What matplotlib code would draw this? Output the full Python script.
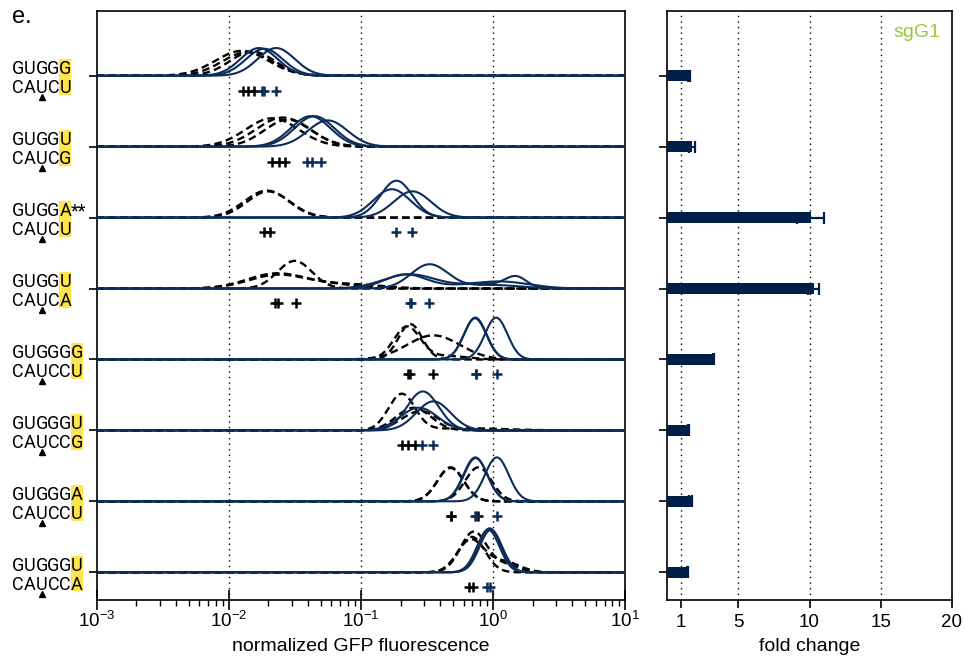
import matplotlib

matplotlib.use("Agg")
import matplotlib.pyplot as plt
import matplotlib.transforms as mtransforms
from matplotlib.patches import Rectangle
import numpy as np

plt.rcParams["font.family"] = ["Liberation Sans", "DejaVu Sans"]

# ---- data (rows from top to bottom) ----
seq_top = ["GUGGG", "GUGGU", "GUGGA", "GUGGU", "GUGGGG", "GUGGGU", "GUGGGA", "GUGGGU"]
seq_bot = ["CAUCU", "CAUCG", "CAUCU", "CAUCA", "CAUCCU", "CAUCCG", "CAUCCU", "CAUCCA"]
seq_mark = ["", "", "**", "", "", "", "", ""]

fold_change = [1.55, 1.74, 10.1, 10.3, 3.27, 1.50, 1.67, 1.46]
fold_err = [0.05, 0.22, 0.95, 0.40, 0.05, 0.05, 0.10, 0.03]

# density peaks per curve: (log10 centre, log10 spread, height in row units)
ctrl_peaks = [
    [[(-1.90, 0.20, 0.35)], [(-1.86, 0.19, 0.33)], [(-1.82, 0.17, 0.34)]],
    [[(-1.67, 0.20, 0.40)], [(-1.59, 0.20, 0.41)], [(-1.55, 0.18, 0.38)]],
    [[(-1.71, 0.17, 0.38)], [(-1.70, 0.16, 0.37)]],
    [[(-1.50, 0.13, 0.39)],
     [(-1.64, 0.22, 0.21), (-1.20, 0.20, 0.05)],
     [(-1.63, 0.22, 0.19), (-1.10, 0.25, 0.06)]],
    [[(-0.625, 0.09, 0.50)], [(-0.65, 0.10, 0.46), (-0.35, 0.15, 0.05)], [(-0.45, 0.20, 0.34)]],
    [[(-0.69, 0.10, 0.51), (-0.20, 0.30, 0.03)], [(-0.60, 0.13, 0.32)], [(-0.55, 0.14, 0.27)]],
    [[(-0.32, 0.10, 0.48)], [(-0.32, 0.10, 0.47)], [(-0.11, 0.10, 0.48)]],
    [[(-0.146, 0.10, 0.57), (0.10, 0.10, 0.10)],
     [(-0.17, 0.10, 0.45), (0.08, 0.12, 0.15)],
     [(-0.16, 0.10, 0.50)]],
]
sg_peaks = [
    [[(-1.77, 0.14, 0.39)], [(-1.73, 0.14, 0.38)], [(-1.64, 0.14, 0.39)]],
    [[(-1.38, 0.15, 0.43)], [(-1.35, 0.15, 0.43)], [(-1.25, 0.15, 0.37)]],
    [[(-0.73, 0.12, 0.52)], [(-0.765, 0.14, 0.40)], [(-0.61, 0.14, 0.37)]],
    [[(-0.48, 0.14, 0.34), (0.00, 0.20, 0.05)],
     [(-0.63, 0.20, 0.20), (0.05, 0.22, 0.10)],
     [(-0.66, 0.16, 0.20), (-0.10, 0.20, 0.07), (0.175, 0.08, 0.15)]],
    [[(-0.133, 0.085, 0.59)], [(-0.135, 0.085, 0.58)], [(0.025, 0.085, 0.59)]],
    [[(-0.53, 0.12, 0.55)], [(-0.45, 0.13, 0.41)], [(-0.56, 0.14, 0.32)]],
    [[(-0.133, 0.09, 0.62)], [(-0.13, 0.09, 0.61)], [(0.03, 0.09, 0.62)]],
    [[(-0.025, 0.085, 0.62)], [(-0.035, 0.085, 0.60)], [(-0.015, 0.085, 0.60)]],
]
ctrl_medians = [
    [-1.89, -1.85, -1.81], [-1.67, -1.62, -1.57], [-1.73, -1.69], [-1.65, -1.63, -1.49],
    [-0.64, -0.63, -0.45], [-0.69, -0.64, -0.59], [-0.32, -0.315, -0.11], [-0.18, -0.15],
]
sg_medians = [
    [-1.75, -1.73, -1.64], [-1.41, -1.37, -1.30], [-0.73, -0.61], [-0.63, -0.62, -0.48],
    [-0.13, -0.13, 0.03], [-0.54, -0.45], [-0.135, -0.13, 0.03], [-0.045, -0.02],
]

NAVY = "#0c2d5a"
BAR = "#00204a"
HILITE = "#ffe44d"
SEQ_FONT = ["Roboto", "DejaVu Sans"]

n_rows = len(seq_top)
rows = np.arange(n_rows)[::-1]  # top row has the largest y

fig = plt.figure(figsize=(9.66, 6.62), dpi=100)
W, H = 966, 662
ax = fig.add_axes([96.5 / W, 1 - 600 / H, (625 - 96.5) / W, 589 / H])
ax2 = fig.add_axes([667 / W, 1 - 600 / H, 285 / W, 589 / H])

lx = np.linspace(-3, 1, 800)
xs = 10 ** lx


def density(peaks):
    y = np.zeros_like(lx)
    for c, s, h in peaks:
        y += h * np.exp(-0.5 * ((lx - c) / s) ** 2)
    return y


for i, yb in enumerate(rows):
    for pk in ctrl_peaks[i]:
        ax.plot(xs, yb + density(pk), color="black", lw=1.7,
                linestyle=(0, (3.2, 1.8)), zorder=2)
    for pk in sg_peaks[i]:
        ax.plot(xs, yb + density(pk), color=NAVY, lw=1.5, zorder=3)
    ax.plot(10 ** np.array(ctrl_medians[i]), [yb - 0.21] * len(ctrl_medians[i]),
            "+", color="black", ms=7, mew=1.8, zorder=4)
    ax.plot(10 ** np.array(sg_medians[i]), [yb - 0.21] * len(sg_medians[i]),
            "+", color=NAVY, ms=7, mew=1.8, zorder=4)

ax.set_xscale("log")
ax.set_xlim(1e-3, 1e1)
ax.set_ylim(-0.39, 7.912)
ax.set_yticks(rows)
ax.set_yticklabels([])
ax.set_xticks([1e-3, 1e-2, 1e-1, 1e0, 1e1])
for g in [1e-2, 1e-1, 1e0]:
    ax.axvline(g, color="black", ls=(0, (1, 3)), lw=1, zorder=1)
ax.tick_params(axis="x", which="major", direction="inout", length=14, width=1.2,
               labelsize=13.5, pad=1)
ax.tick_params(axis="x", which="minor", direction="out", length=4, width=1)
ax.tick_params(axis="y", direction="out", length=6, width=1.2)
ax.set_xlabel("normalized GFP fluorescence", fontsize=14, labelpad=5)
for sp in ax.spines.values():
    sp.set_linewidth(1.2)

# sequence labels: one column per base, last base highlighted
trans = mtransforms.blended_transform_factory(fig.transFigure, ax.transData)
col0, colw = 18.0, 11.8
for i, yb in enumerate(rows):
    k = len(seq_top[i]) - 1
    xc = col0 + k * colw
    ax.add_patch(Rectangle(((xc - 6) / W, yb - 0.27), 12 / W, 0.50, transform=trans,
                           facecolor=HILITE, edgecolor="none", clip_on=False, zorder=1))
    for j, (a, b) in enumerate(zip(seq_top[i], seq_bot[i])):
        x = (col0 + j * colw) / W
        ax.text(x, yb + 0.02, a, transform=trans, ha="center", va="baseline",
                fontsize=13, family=SEQ_FONT, clip_on=False)
        ax.text(x, yb - 0.25, b, transform=trans, ha="center", va="baseline",
                fontsize=13, family=SEQ_FONT, clip_on=False)
    if seq_mark[i]:
        ax.text((xc + 6) / W, yb + 0.02, seq_mark[i], transform=trans, ha="left",
                va="baseline", fontsize=13, family=SEQ_FONT, clip_on=False)
    ax.plot([(col0 + 2 * colw) / W], [yb - 0.305], marker="^", color="black", ms=4.5,
            transform=trans, clip_on=False)

fig.text(12 / W, 1 - 23 / H, "e.", fontsize=17, va="baseline")

# fold change bars
ax2.barh(rows, fold_change, height=0.155, color=BAR, zorder=3)
ax2.errorbar(fold_change, rows, xerr=fold_err, fmt="none", ecolor=BAR,
             elinewidth=1.6, capsize=4, capthick=1.6, zorder=4)
ax2.set_xlim(0, 20)
ax2.set_ylim(-0.39, 7.912)
ax2.set_xticks([1, 5, 10, 15, 20])
ax2.set_yticks(rows)
ax2.set_yticklabels([])
for g in [1, 5, 10, 15]:
    ax2.axvline(g, color="black", ls=(0, (1, 3)), lw=1, zorder=1)
ax2.tick_params(axis="x", direction="out", length=6, width=1.2, labelsize=13.5, pad=4)
ax2.tick_params(axis="y", direction="out", length=6, width=1.2)
ax2.set_xlabel("fold change", fontsize=14, labelpad=5)
for sp in ax2.spines.values():
    sp.set_linewidth(1.2)
ax2.text(0.961, 0.956, "sgG1", transform=ax2.transAxes, ha="right", va="baseline",
         fontsize=14, color="#9bc53d")

fig.savefig("out.png", dpi=100)
